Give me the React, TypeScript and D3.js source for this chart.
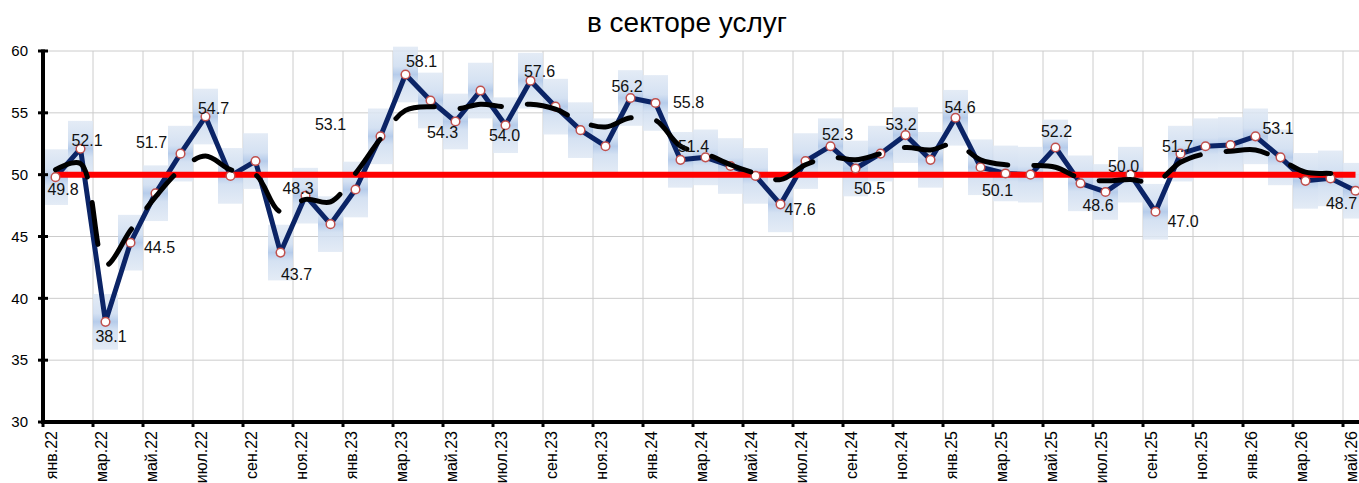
import React, { useEffect, useRef } from 'react';
import * as d3 from 'd3';

// categories, one per month
const months = [
  'янв.22', 'фев.22', 'мар.22', 'апр.22', 'май.22', 'июн.22', 'июл.22', 'авг.22', 'сен.22', 'окт.22', 'ноя.22', 'дек.22',
  'янв.23', 'фев.23', 'мар.23', 'апр.23', 'май.23', 'июн.23', 'июл.23', 'авг.23', 'сен.23', 'окт.23', 'ноя.23', 'дек.23',
  'янв.24', 'фев.24', 'мар.24', 'апр.24', 'май.24', 'июн.24', 'июл.24', 'авг.24', 'сен.24', 'окт.24', 'ноя.24', 'дек.24',
  'янв.25', 'фев.25', 'мар.25', 'апр.25', 'май.25', 'июн.25', 'июл.25', 'авг.25', 'сен.25', 'окт.25', 'ноя.25', 'дек.25',
  'янв.26', 'фев.26', 'мар.26', 'апр.26', 'май.26'
];

// PMI services index
const pmi = [
  49.8, 52.1, 38.1, 44.5, 48.5, 51.7, 54.7, 49.9, 51.1, 43.7, 48.3, 46.0,
  48.8, 53.1, 58.1, 56.0, 54.3, 56.8, 54.0, 57.6, 55.5, 53.6, 52.3, 56.2,
  55.8, 51.2, 51.4, 50.7, 49.9, 47.6, 51.1, 52.3, 50.5, 51.7, 53.2, 51.2,
  54.6, 50.6, 50.1, 50.0, 52.2, 49.3, 48.6, 50.0, 47.0, 51.7, 52.3, 52.4,
  53.1, 51.4, 49.5, 49.7, 48.7
];

// smoothed trend (black dashed)
const trend = [
  50.4, 50.9, 42.7, 45.5, 48.2, 50.4, 51.5, 50.4, 50.0, 47.0, 48.0, 47.8,
  50.1, 52.9, 55.2, 55.5, 55.3, 55.7, 55.5, 55.7, 55.3, 54.3, 53.85, 54.6,
  54.4, 52.3, 51.7, 50.8, 50.1, 49.6, 50.8, 51.4, 51.2, 51.7, 52.2, 52.0,
  52.5, 51.2, 50.8, 50.75, 50.6, 49.7, 49.5, 49.6, 49.4, 51.0, 51.7, 51.9,
  52.0, 51.2, 50.2, 50.1, 50.0
];

const threshold = 50;
const band = 2.25; // half height of the shaded box, index points
const yTicks = [30, 35, 40, 45, 50, 55, 60];
const title = 'в секторе услуг';

// where each value label sits relative to its point
const labelOffsets: Record<number, [number, number]> = {
  0: [7.5, 18], 1: [6.5, -3], 2: [5.5, 20], 3: [29, 10], 5: [-29, -6], 6: [8, -3],
  9: [16, 27], 10: [-7.5, -2], 13: [-50, -6], 14: [16, -7], 16: [-13, 17], 18: [-1, 16],
  19: [9, -4], 23: [-3.5, -6], 24: [33, 5], 26: [-12, -5], 29: [19.5, 11], 31: [7, -6.5],
  32: [14, 26], 34: [-4.5, -5], 36: [4.5, -5], 38: [-8, 23], 40: [1, -10], 42: [-7.5, 19],
  43: [-7, -3], 44: [27.5, 15], 45: [-3, -2], 48: [22.5, -2], 52: [-14, 18]
};

const W = 1359, H = 483;
const font = 'Arial, "Liberation Sans", sans-serif';

export default function App() {
  const ref = useRef<SVGSVGElement>(null);

  useEffect(() => {
    const svg = d3.select(ref.current);
    svg.selectAll('*').remove();

    const left = 43, top = 51, bottom = 422, step = 25;

    const x = d3.scaleBand<number>()
      .domain(d3.range(months.length))
      .range([left, left + months.length * step])
      .padding(0);
    const cx = (i: number) => (x(i) as number) + x.bandwidth() / 2;

    const y = d3.scaleLinear().domain([30, 60]).range([bottom, top]);

    const defs = svg.append('defs');
    const grad = defs.append('linearGradient')
      .attr('id', 'boxfill')
      .attr('x1', 0).attr('x2', 0).attr('y1', 0).attr('y2', 1);
    [[0, '#dfe8f4'], [0.35, '#cddcf0'], [0.5, '#a9c3e7'], [0.65, '#cddcf0'], [1, '#dfe8f4']]
      .forEach(([o, c]) => grad.append('stop').attr('offset', o as number).attr('stop-color', c as string));

    svg.append('rect').attr('width', W).attr('height', H).attr('fill', '#fff');

    // title
    svg.append('text')
      .attr('x', 687).attr('y', 32)
      .attr('text-anchor', 'middle')
      .attr('font-family', font).attr('font-size', 28)
      .text(title);

    // grid
    const grid = svg.append('g').attr('stroke', '#cccccc').attr('stroke-width', 1);
    grid.selectAll('.hg').data(yTicks.filter(d => d > 30)).enter().append('line')
      .attr('x1', left).attr('x2', W)
      .attr('y1', d => y(d)).attr('y2', d => y(d));
    const tickIdx = d3.range(0, months.length + 1, 2);
    grid.selectAll('.vg').data(tickIdx.filter(i => i > 0)).enter().append('line')
      .attr('x1', i => left + i * step).attr('x2', i => left + i * step)
      .attr('y1', top).attr('y2', bottom);

    // shaded boxes
    svg.append('g').selectAll('rect').data(pmi).enter().append('rect')
      .attr('x', (d, i) => x(i) as number)
      .attr('width', x.bandwidth())
      .attr('y', d => y(d + band))
      .attr('height', d => y(d - band) - y(d + band))
      .attr('fill', 'url(#boxfill)')
      .attr('opacity', 0.85);

    // main line
    const line = d3.line<number>().x((d, i) => cx(i)).y(d => y(d));
    svg.append('path')
      .datum(pmi)
      .attr('d', line)
      .attr('fill', 'none')
      .attr('stroke', '#0b2466')
      .attr('stroke-width', 5)
      .attr('stroke-linejoin', 'round');

    // 50 line
    svg.append('path')
      .datum(pmi.map(() => threshold))
      .attr('d', line)
      .attr('fill', 'none')
      .attr('stroke', '#ff0000')
      .attr('stroke-width', 6);

    // markers
    svg.append('g').selectAll('circle').data(pmi).enter().append('circle')
      .attr('cx', (d, i) => cx(i))
      .attr('cy', d => y(d))
      .attr('r', 4.3)
      .attr('fill', '#fff')
      .attr('stroke', '#c0504d')
      .attr('stroke-width', 1.5);

    // trend
    const smooth = d3.line<number>().x((d, i) => cx(i)).y(d => y(d)).curve(d3.curveCatmullRom.alpha(0.5));
    svg.append('path')
      .datum(trend)
      .attr('d', smooth)
      .attr('fill', 'none')
      .attr('stroke', '#000')
      .attr('stroke-width', 5)
      .attr('stroke-linecap', 'round')
      .attr('stroke-dasharray', '42 26');

    // value labels
    svg.append('g').selectAll('text').data(Object.keys(labelOffsets).map(Number)).enter().append('text')
      .attr('x', i => cx(i) + labelOffsets[i][0])
      .attr('y', i => y(pmi[i]) + labelOffsets[i][1])
      .attr('text-anchor', 'middle')
      .attr('font-family', font).attr('font-size', 16)
      .attr('fill', '#111')
      .text(i => pmi[i].toFixed(1));

    // axes
    const axes = svg.append('g').attr('stroke', '#000');
    axes.append('line').attr('x1', left).attr('x2', left).attr('y1', top - 1.5).attr('y2', bottom + 2).attr('stroke-width', 4);
    axes.append('line').attr('x1', left - 2).attr('x2', W).attr('y1', bottom).attr('y2', bottom).attr('stroke-width', 4);
    axes.selectAll('.yt').data(yTicks).enter().append('line')
      .attr('x1', left - 5).attr('x2', left + 5)
      .attr('y1', d => y(d)).attr('y2', d => y(d))
      .attr('stroke-width', 3);
    axes.selectAll('.xt').data(tickIdx).enter().append('line')
      .attr('x1', i => left + i * step).attr('x2', i => left + i * step)
      .attr('y1', bottom).attr('y2', bottom + 5)
      .attr('stroke-width', 3);

    svg.append('g').selectAll('text').data(yTicks).enter().append('text')
      .attr('x', 28).attr('y', d => y(d))
      .attr('dy', '0.35em')
      .attr('text-anchor', 'end')
      .attr('font-family', font).attr('font-size', 15)
      .text(d => d);

    svg.append('g').selectAll('text').data(tickIdx.filter(i => i < months.length)).enter().append('text')
      .attr('transform', i => `translate(${cx(i) + 1},431) rotate(-90)`)
      .attr('text-anchor', 'end')
      .attr('font-family', font).attr('font-size', 16)
      .text(i => months[i]);
  }, []);

  return <svg ref={ref} width={W} height={H} style={{ position: 'absolute', left: 0, top: 0 }} />;
}
